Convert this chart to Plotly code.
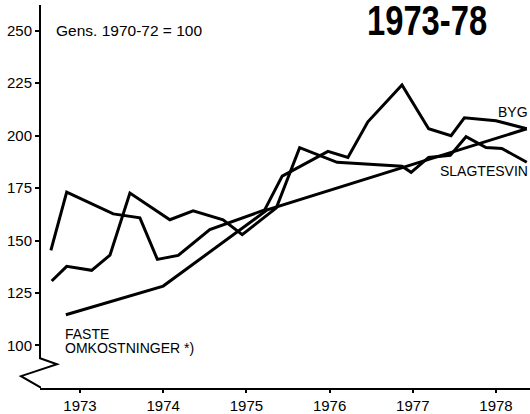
import plotly.graph_objects as go

# ---------------- data ----------------
byg_x = [1972.65, 1972.84, 1973.40, 1973.72, 1973.93, 1974.18, 1974.56, 1974.80,
         1975.04, 1975.22, 1975.43, 1975.98, 1976.22, 1976.46, 1976.87, 1977.19,
         1977.46, 1977.62, 1978.00, 1978.37]
byg_y = [145.3, 173.1, 162.7, 160.8, 141.0, 142.9, 155.2, 158.5,
         161.8, 164.6, 180.7, 192.5, 189.6, 206.6, 224.1, 203.3,
         200.0, 208.5, 207.1, 203.3]

svin_x = [1972.66, 1972.84, 1973.14, 1973.36, 1973.60, 1974.08, 1974.36, 1974.72,
          1974.95, 1975.36, 1975.64, 1976.09, 1976.87, 1976.98, 1977.19, 1977.45,
          1977.64, 1977.88, 1978.07, 1978.37]
svin_y = [130.7, 137.7, 135.8, 143.0, 172.6, 159.9, 164.2, 159.9,
          152.8, 165.6, 194.3, 187.3, 185.4, 182.5, 189.6, 190.6,
          199.5, 194.3, 193.9, 187.3]

faste_x = [1972.83, 1974.00, 1975.25, 1978.37]
faste_y = [114.6, 128.3, 164.6, 203.3]

x_ticks = [1973, 1974, 1975, 1976, 1977, 1978]
x_ticklabels = ["1973", "1974", "1975", "1976", "1977", "1978"]
y_ticks = [100, 125, 150, 175, 200, 225, 250]
y_ticklabels = ["100", "125", "150", "175", "200", "225", "250"]

title_text = "1973-78"
base_text = "Gens. 1970-72 = 100"

# ---------------- figure ----------------
W, H = 530, 414
ML, MR, MT, MB = 40, 0, 5, 22
PW, PH = W - ML - MR, H - MT - MB


def px(xp):
    return (xp - ML) / PW


def py(yp):
    return (H - MB - yp) / PH


FONT = "Liberation Sans, Arial, Helvetica, sans-serif"
line_style = dict(color="black", width=3)

fig = go.Figure()
fig.add_trace(go.Scatter(x=svin_x, y=svin_y, mode="lines", line=line_style,
                         name="SLAGTESVIN", hoverinfo="x+y+name"))
fig.add_trace(go.Scatter(x=byg_x, y=byg_y, mode="lines", line=line_style,
                         name="BYG", hoverinfo="x+y+name"))
fig.add_trace(go.Scatter(x=faste_x, y=faste_y, mode="lines", line=line_style,
                         name="FASTE OMKOSTNINGER", hoverinfo="x+y+name"))

x0 = 1973 - (80 - ML) / 83.2
x1 = x0 + PW / 83.2
ppu = 2.12
y0 = 100 - (H - MB - 349) / ppu
y1 = y0 + PH / ppu

fig.update_layout(
    width=W, height=H,
    margin=dict(l=ML, r=MR, t=MT, b=MB, pad=0),
    paper_bgcolor="white", plot_bgcolor="white",
    showlegend=False,
    font=dict(family=FONT, color="black", size=15),
    xaxis=dict(range=[x0, x1], tickvals=x_ticks, ticktext=x_ticklabels,
               ticks="outside", ticklen=3, tickwidth=1.5, tickcolor="black",
               showline=True, linecolor="black", linewidth=1.5,
               showgrid=False, zeroline=False,
               tickfont=dict(family=FONT, size=15, color="black")),
    yaxis=dict(range=[y0, y1], tickvals=y_ticks, ticktext=y_ticklabels,
               ticks="outside", ticklen=4, tickwidth=1.5, tickcolor="black",
               showline=False, showgrid=False, zeroline=False,
               tickfont=dict(family=FONT, size=15, color="black")),
)

# y-axis line with break (zigzag) drawn in paper coordinates
path = (f"M {px(40)},{py(5)} L {px(40)},{py(362)} L {px(57)},{py(368)} "
        f"L {px(21)},{py(380)} L {px(40)},{py(391)} L {px(40)},{py(392)}")
fig.add_shape(type="path", path=path, xref="paper", yref="paper",
              line=dict(color="black", width=2))

annots = [
    dict(text=f"<b>{title_text}</b>", x=px(427), y=py(21), xanchor="center", yanchor="middle",
         font=dict(family=FONT, size=42)),
    dict(text=base_text, x=px(54), y=py(31), xanchor="left", yanchor="middle",
         font=dict(family=FONT, size=15.5)),
    dict(text="BYG", x=1.0, y=py(113), xanchor="right", yanchor="middle",
         font=dict(family=FONT, size=14)),
    dict(text="SLAGTESVIN", x=1.0, y=py(173), xanchor="right", yanchor="middle",
         font=dict(family=FONT, size=14)),
    dict(text="FASTE", x=px(63), y=py(337), xanchor="left", yanchor="middle",
         font=dict(family=FONT, size=14)),
    dict(text="OMKOSTNINGER *)", x=px(63), y=py(352), xanchor="left", yanchor="middle",
         font=dict(family=FONT, size=14)),
]
for a in annots:
    fig.add_annotation(xref="paper", yref="paper", showarrow=False, **a)

post = """
document.body.style.margin = '0';
var gd = document.getElementById('{plot_id}');
gd.querySelectorAll('text.annotation-text').forEach(function (t) {
  if (t.textContent.indexOf('1973-78') >= 0) {
    t.style.transformBox = 'fill-box';
    t.style.transformOrigin = 'center';
    t.style.transform = 'scaleX(0.78)';
  }
});
"""

fig.write_html("out.html", post_script=post, config={"displayModeBar": False})
